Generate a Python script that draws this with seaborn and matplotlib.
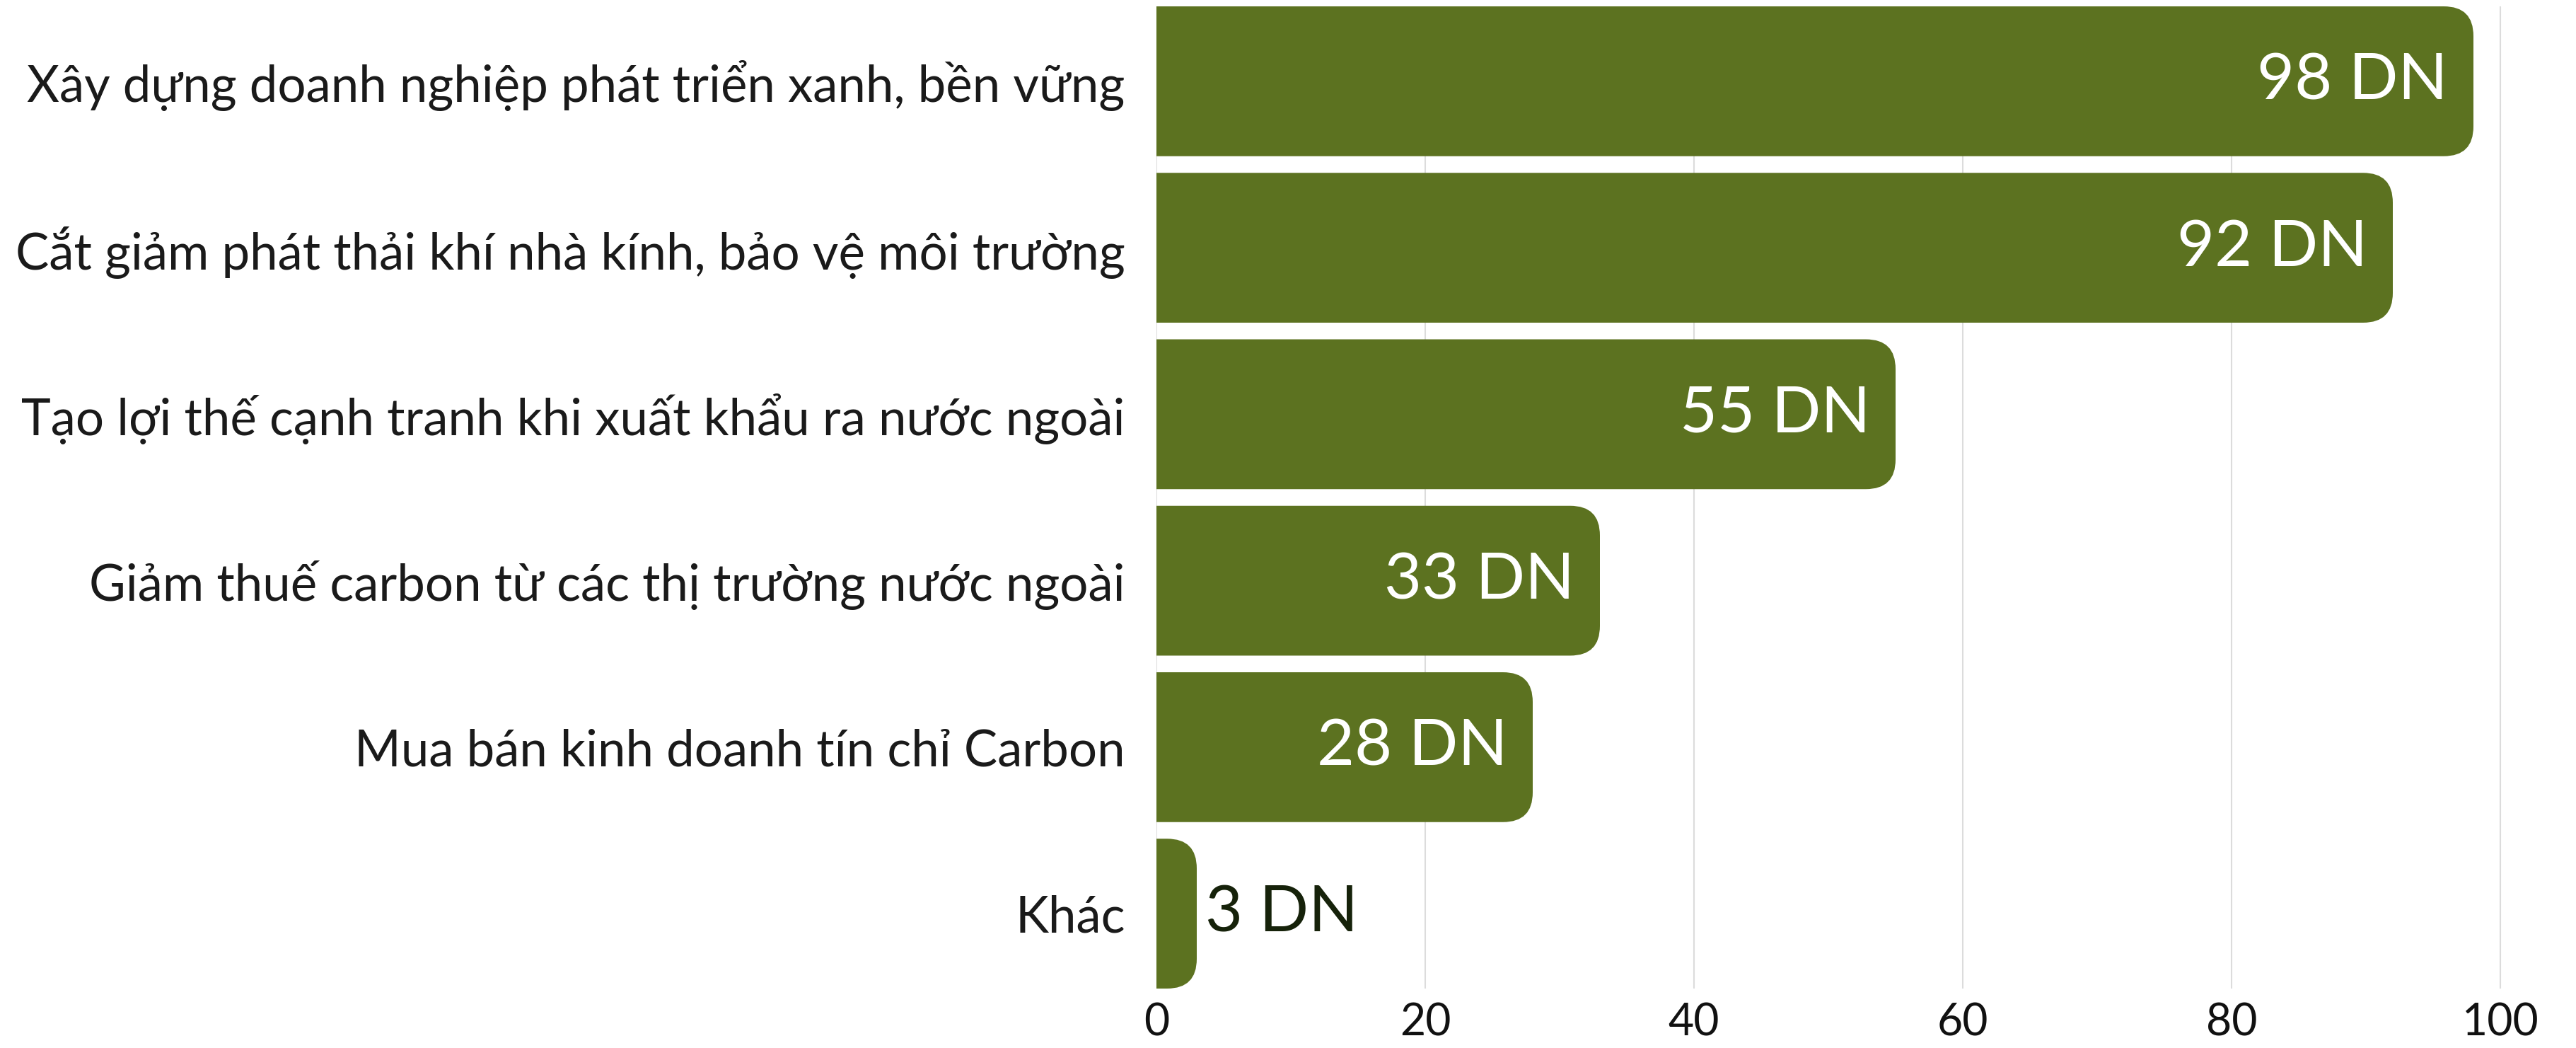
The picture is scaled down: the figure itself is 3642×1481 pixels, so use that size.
import matplotlib
matplotlib.use("Agg")
import matplotlib.pyplot as plt
from matplotlib.patches import FancyBboxPatch
import seaborn as sns
import pandas as pd

# Data
categories = [
    "Xây dựng doanh nghiệp phát triển xanh, bền vững",
    "Cắt giảm phát thải khí nhà kính, bảo vệ môi trường",
    "Tạo lợi thế cạnh tranh khi xuất khẩu ra nước ngoài",
    "Giảm thuế carbon từ các thị trường nước ngoài",
    "Mua bán kinh doanh tín chỉ Carbon",
    "Khác",
]
values = [98, 92, 55, 33, 28, 3]
x_ticks = [0, 20, 40, 60, 80, 100]

df = pd.DataFrame({"category": categories, "value": values})

bar_color = "#5c7220"
W, H, DPI = 3642, 1481, 100

sns.set_theme(style="white")
plt.rcParams["font.family"] = ["Lato", "DejaVu Sans"]

fig = plt.figure(figsize=(W / DPI, H / DPI), dpi=DPI)
# axes placed in pixels: x=0 at 1635px, 19 px per unit, rows from y=9 to y=1397
x_max = 101
ax = fig.add_axes([1635 / W, (H - 1397) / H, x_max * 19 / W, (1397 - 9) / H])

sns.barplot(data=df, x="value", y="category", orient="h", color=bar_color,
            width=0.9, ax=ax, zorder=2)

ax.set_xlim(0, x_max)
ax.set_ylim(len(categories) - 0.55, -0.45)

# replace bars with rounded ones (rounded right side)
px_x = 19.0
px_y = (1397 - 9) / (len(categories) - 0.1)
aspect = px_x / px_y
r = 42 / px_x
for p in list(ax.patches):
    x0, y0, w, h = p.get_x(), p.get_y(), p.get_width(), p.get_height()
    p.remove()
    fb = FancyBboxPatch((x0 - 2 * r, y0), w + 2 * r, h,
                        boxstyle=f"round,pad=0,rounding_size={r}",
                        mutation_aspect=aspect, facecolor=bar_color,
                        edgecolor="none", zorder=2)
    ax.add_patch(fb)

# value labels
for i, v in enumerate(values):
    if v > 10:
        ax.annotate(f"{v} DN", xy=(v, i), xytext=(-26, 0), textcoords="offset points",
                    ha="right", va="center", color="white", fontsize=66)
    else:
        ax.annotate(f"{v} DN", xy=(v, i), xytext=(9, 0), textcoords="offset points",
                    ha="left", va="center", color="#16220a", fontsize=66)

ax.set_xticks(x_ticks)
ax.set_xticklabels([str(t) for t in x_ticks])
ax.xaxis.grid(True, color="#dcdcdc", linewidth=1.5, zorder=0)
ax.set_axisbelow(True)
ax.tick_params(axis="x", length=0, labelsize=45, pad=14, colors="#111111")
ax.tick_params(axis="y", length=0, labelsize=51, pad=32, colors="#1a1a1a")
ax.set_xlabel("")
ax.set_ylabel("")
for s in ax.spines.values():
    s.set_visible(False)

fig.savefig("out.png", dpi=DPI, facecolor="white")
